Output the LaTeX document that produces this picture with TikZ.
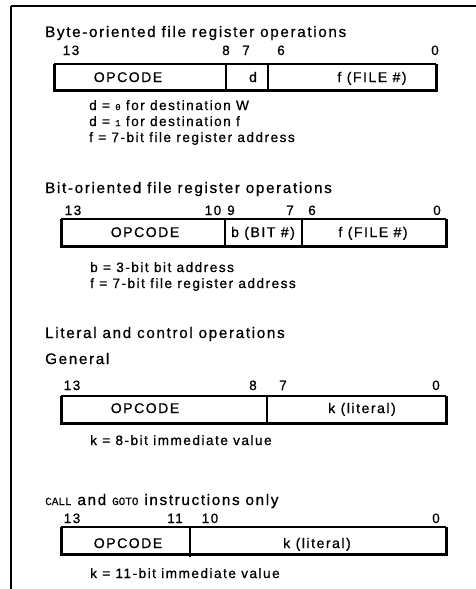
\documentclass[tikz,border=0pt]{standalone}
\usepackage{fontspec}
\setmainfont{Liberation Sans}[LetterSpace=11,FakeBold=0.8]
\newfontfamily\smallmono{Liberation Mono}[FakeBold=0.6]
\tikzset{
  head/.style={anchor=base west, inner sep=0pt, font=\fontsize{15.2}{17}\selectfont},
  note/.style={anchor=base west, inner sep=0pt, font=\fontsize{13.6}{15}\selectfont},
  bitno/.style={anchor=base, inner sep=0pt, font=\fontsize{13.5}{15}\selectfont},
  field/.style={anchor=base, inner sep=0pt, font=\fontsize{14}{16}\selectfont},
  thinedge/.style={line width=1.5pt},
  thickedge/.style={line width=3pt},
  divider/.style={line width=1.6pt},
  frame/.style={line width=1.5pt}
}
\newcommand{\regbox}[4]{% x1 y1 x2 y2
  \draw[thinedge] (#1,#2) -- (#3,#2);
  \draw[thickedge] (#1,#2) -- (#1,#4) -- (#3,#4) -- (#3,#2);
}
\newcommand{\sm}[1]{{\smallmono\fontsize{11}{12}\selectfont #1}}
\newcommand{\smd}[1]{{\smallmono\fontsize{9}{10}\selectfont #1}}
\begin{document}
\begin{tikzpicture}[x=1pt,y=-1pt]
\useasboundingbox (0,0) rectangle (476,589);
% frame
\coordinate (ftl) at (11,6);
\coordinate (ftr) at (476,6);
\coordinate (fbl) at (11,589);
\draw[frame] (ftr) -- (ftl);
\draw[line width=2.6pt] (ftl) -- (fbl);

% ---------- Byte-oriented ----------
\node[head] (h1) at (45,37) {Byte-oriented file register operations};
\node[bitno] (b1a) at (71,55) {13};
\node[bitno] (b1b) at (226,55) {8};
\node[bitno] (b1c) at (246,55) {7};
\node[bitno] (b1d) at (281,55) {6};
\node[bitno] (b1e) at (435,55) {0};
\regbox{54}{64}{436}{90}
\coordinate (d1t) at (226,64); \coordinate (d1b) at (226,90);
\coordinate (d2t) at (268,64); \coordinate (d2b) at (268,90);
\draw[divider] (d1t) -- (d1b);
\draw[divider] (d2t) -- (d2b);
\node[field] (f1a) at (128,82) {OPCODE};
\node[field] (f1b) at (253,82) {d};
\node[field] (f1c) at (372,82) {f (FILE \#)};
\node[note] (n1a) at (89,110) {d = \smd{0} for destination W};
\node[note] (n1b) at (89,126) {d = \smd{1} for destination f};
\node[note] (n1c) at (89,142) {f = 7-bit file register address};

% ---------- Bit-oriented ----------
\node[head] (h2) at (45,193) {Bit-oriented file register operations};
\node[bitno] (b2a) at (73,215) {13};
\node[bitno] (b2b) at (213,215) {10};
\node[bitno] (b2c) at (231,215) {9};
\node[bitno] (b2d) at (290,215) {7};
\node[bitno] (b2e) at (312,215) {6};
\node[bitno] (b2f) at (437,215) {0};
\regbox{61}{219}{446}{246}
\coordinate (d3t) at (225,219); \coordinate (d3b) at (225,246);
\coordinate (d4t) at (302,219); \coordinate (d4b) at (302,246);
\draw[divider] (d3t) -- (d3b);
\draw[divider] (d4t) -- (d4b);
\node[field] (f2a) at (145,237) {OPCODE};
\node[field] (f2b) at (263,237) {b (BIT \#)};
\node[field] (f2c) at (373,237) {f (FILE \#)};
\node[note] (n2a) at (90,272) {b = 3-bit bit address};
\node[note] (n2b) at (90,288) {f = 7-bit file register address};

% ---------- Literal and control ----------
\node[head] (h3) at (45,338) {Literal and control operations};
\node[head] (h4) at (45,364) {General};
\node[bitno] (b3a) at (72,390) {13};
\node[bitno] (b3b) at (253,390) {8};
\node[bitno] (b3c) at (283,390) {7};
\node[bitno] (b3d) at (436,390) {0};
\regbox{61}{396}{446}{423}
\coordinate (d5t) at (267,396); \coordinate (d5b) at (267,423);
\draw[divider] (d5t) -- (d5b);
\node[field] (f3a) at (145,413) {OPCODE};
\node[field] (f3b) at (362,413) {k (literal)};
\node[note] (n3a) at (90,445) {k = 8-bit immediate value};

% ---------- CALL and GOTO ----------
\node[head] (h5) at (45,505) {\sm{CALL} and \sm{GOTO} instructions only};
\node[bitno] (b4a) at (72,523) {13};
\node[bitno] (b4b) at (175,523) {11};
\node[bitno] (b4c) at (210,523) {10};
\node[bitno] (b4d) at (436,523) {0};
\regbox{61}{527}{446}{554}
\coordinate (d6t) at (190,527); \coordinate (d6b) at (190,557);
\draw[divider] (d6t) -- (d6b);
\node[field] (f4a) at (128,548) {OPCODE};
\node[field] (f4b) at (317,548) {k (literal)};
\node[note] (n4a) at (90,578) {k = 11-bit immediate value};
\end{tikzpicture}
\end{document}
